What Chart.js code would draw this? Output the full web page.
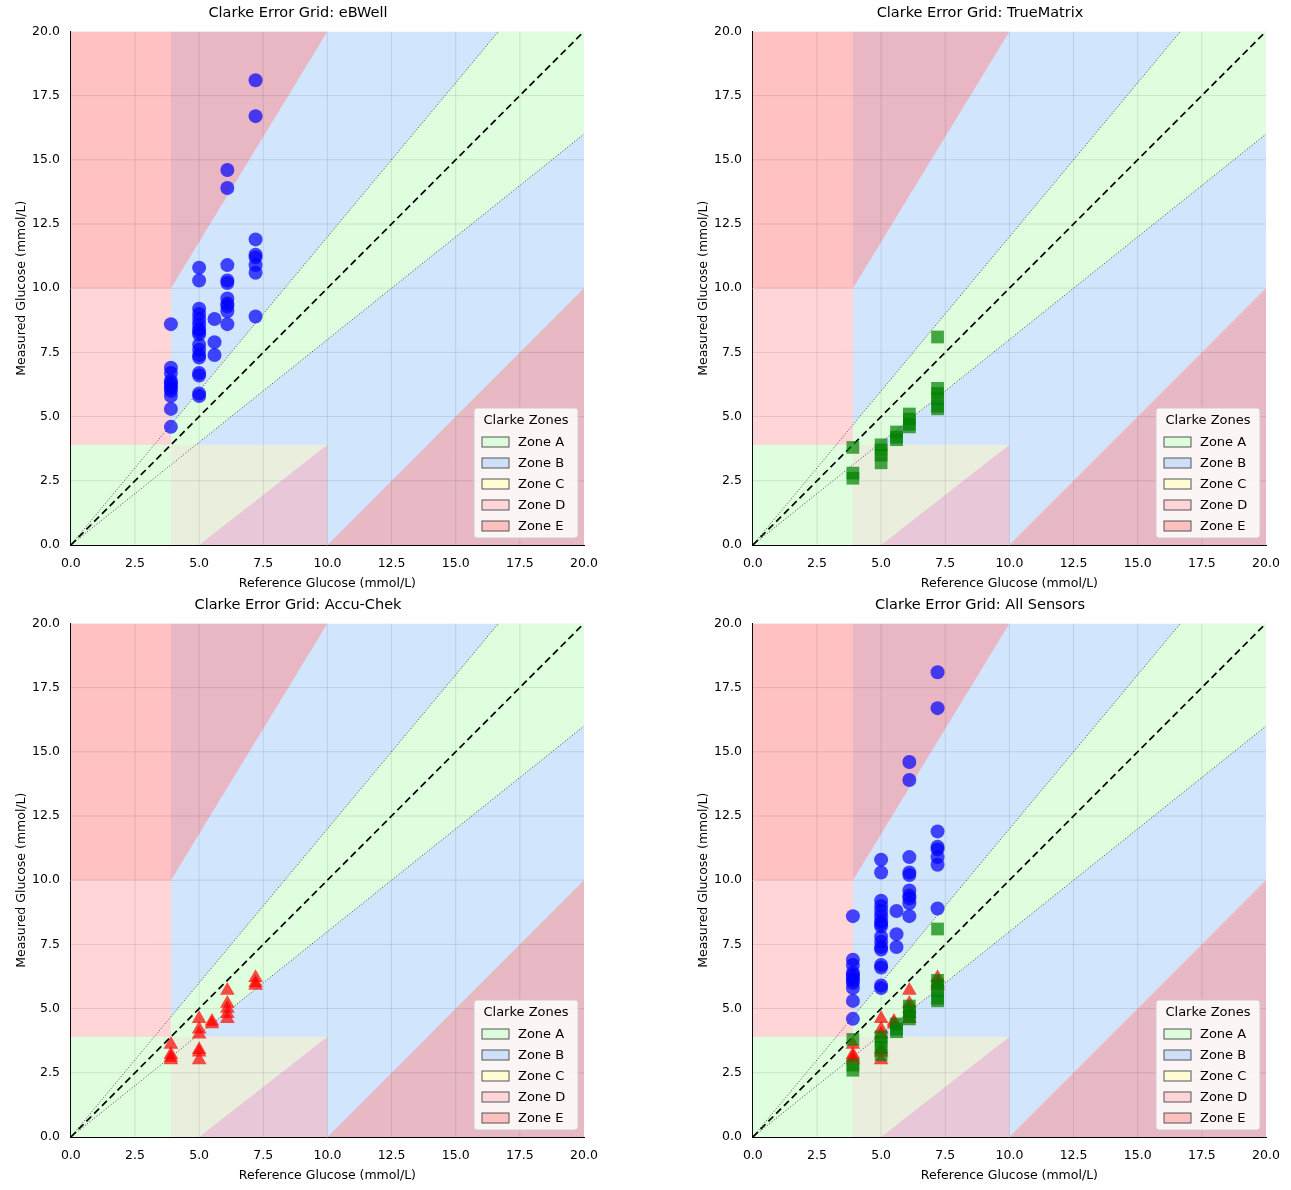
<!DOCTYPE html>
<html><head><meta charset="utf-8">
<script src="https://cdn.jsdelivr.net/npm/chart.js@4"></script>
<style>
body{margin:0;background:#fff;width:1291px;height:1190px;position:relative;overflow:hidden}
.w{position:absolute;width:620px;height:592px}
</style></head><body>
<div class="w" style="left:0;top:0"><canvas id="c1"></canvas></div>
<div class="w" style="left:682px;top:0"><canvas id="c2"></canvas></div>
<div class="w" style="left:0;top:592px"><canvas id="c3"></canvas></div>
<div class="w" style="left:682px;top:592px"><canvas id="c4"></canvas></div>
<script>
const tickLabels=['0.0','2.5','5.0','7.5','10.0','12.5','15.0','17.5','20.0'];
const ebRef=[3.9,3.9,3.9,3.9,3.9,3.9,3.9,3.9,3.9,3.9,3.9,5,5,5,5,5,5,5,5,5,5,5,5,5,5,5,5,5,5.6,5.6,5.6,6.1,6.1,6.1,6.1,6.1,6.1,6.1,6.1,6.1,6.1,7.2,7.2,7.2,7.2,7.2,7.2,7.2,7.2];
const ebMeas=[8.6,6.9,6.7,6.4,6.3,6.2,6.1,6.0,5.8,5.3,4.6,10.8,10.3,9.2,9.0,8.8,8.6,8.4,8.3,8.2,7.8,7.6,7.4,7.3,6.7,6.6,5.9,5.8,8.8,7.9,7.4,14.6,13.9,10.9,10.3,10.2,9.6,9.4,9.3,9.1,8.6,18.1,16.7,11.9,11.3,11.2,10.9,10.6,8.9];
const tmRef=[3.9,3.9,3.9,5,5,5,5,5.6,5.6,5.6,6.1,6.1,6.1,6.1,7.2,7.2,7.2,7.2,7.2,7.2];
const tmMeas=[3.8,2.8,2.6,3.9,3.7,3.5,3.2,4.4,4.2,4.1,5.1,4.9,4.7,4.6,8.1,6.1,5.9,5.7,5.4,5.3];
const acRef=[3.9,3.9,3.9,3.9,5,5,5,5,5,5,5.5,5.5,6.1,6.1,6.1,6.1,6.1,7.2,7.2,7.2];
const acMeas=[3.6,3.2,3.1,3.0,4.6,4.2,4.0,3.4,3.3,3.0,4.5,4.4,5.7,5.2,5.0,4.8,4.6,6.2,6.0,5.9];
const zoneNames=['Zone A','Zone B','Zone C','Zone D','Zone E'];
const zoneLegendColors=['#dcfcdc','#cde0f8','#fffcd4','#ffd5d8','#ffc0c0'];
const polyB=[[0,0],[20,0],[20,20],[0,20]];
const polyAwedge=[[0,0],[16.67,20],[20,20],[20,16]];
const polyAsq=[[0,0],[3.9,0],[3.9,3.9],[0,3.9]];
const polyD=[[0,3.9],[3.9,3.9],[3.9,10],[0,10]];
const polyE=[[0,10],[3.9,10],[3.9,20],[0,20]];
const polyUpperTri=[[3.9,10],[3.9,20],[10,20]];
const polyLowRect=[[3.9,0],[10,0],[10,3.9],[3.9,3.9]];
const polyLowTri=[[5,0],[10,0],[10,3.9]];
const polyLowRightTri=[[10,0],[20,0],[20,10]];
const zoneFills=[[polyB,'#d1e5fc'],[polyAwedge,'#defede'],[polyAsq,'#defede'],[polyD,'#ffd5d8'],[polyE,'#ffc1c1'],[polyUpperTri,'#e8b7c3'],[polyLowRect,'#e9efdc'],[polyLowTri,'#e8c8d8'],[polyLowRightTri,'#e8b8c4']];
const FONT='DejaVu Sans';
Chart.defaults.font.family=FONT;
Chart.defaults.color='#000';
const zonePlugin={id:'zones',beforeDatasetsDraw(ch){const {ctx,chartArea:a,scales:{x,y}}=ch;ctx.save();ctx.beginPath();ctx.rect(a.left,a.top,a.width,a.height);ctx.clip();
 for(const [p,c] of zoneFills){ctx.beginPath();p.forEach((q,i)=>{const px=x.getPixelForValue(q[0]),py=y.getPixelForValue(q[1]);i?ctx.lineTo(px,py):ctx.moveTo(px,py)});ctx.closePath();ctx.fillStyle=c;ctx.fill();}
 ctx.strokeStyle='rgba(0,0,0,0.1)';ctx.lineWidth=1;
 for(let v=2.5;v<20;v+=2.5){let px=x.getPixelForValue(v);ctx.beginPath();ctx.moveTo(px,a.top);ctx.lineTo(px,a.bottom);ctx.stroke();let py=y.getPixelForValue(v);ctx.beginPath();ctx.moveTo(a.left,py);ctx.lineTo(a.right,py);ctx.stroke();}
 ctx.restore();},
 afterDraw(ch){const {ctx,chartArea:a}=ch;ctx.save();const w=104,h=130,l=a.right-w-6,t=a.bottom-h-7;
 ctx.fillStyle='rgba(255,255,255,0.85)';ctx.strokeStyle='#ccc';ctx.lineWidth=1;ctx.beginPath();ctx.roundRect(l,t,w,h,3);ctx.fill();ctx.stroke();
 ctx.fillStyle='#000';ctx.font='13px '+FONT;ctx.textAlign='center';ctx.textBaseline='middle';ctx.fillText('Clarke Zones',l+w/2,t+13);
 ctx.textAlign='left';zoneNames.forEach((n,i)=>{const yy=t+34+i*21;ctx.fillStyle=zoneLegendColors[i];ctx.fillRect(l+8,yy-5,27,10);ctx.strokeStyle='#555';ctx.strokeRect(l+8,yy-5,27,10);ctx.fillStyle='#000';ctx.fillText(n,l+44,yy+1);});
 ctx.restore();}};
function pts(r,m){return r.map((v,i)=>({x:v,y:m[i]}));}
const blueDs=()=>({type:'scatter',clip:false,data:pts(ebRef,ebMeas),pointStyle:'circle',radius:7,backgroundColor:'rgba(0,0,255,0.7)',borderColor:'rgba(0,0,255,0.7)',borderWidth:0});
const greenDs=()=>({type:'scatter',clip:false,data:pts(tmRef,tmMeas),pointStyle:'rect',radius:9,backgroundColor:'rgba(0,128,0,0.7)',borderColor:'rgba(0,128,0,0.7)',borderWidth:0});
const redDs=()=>({type:'scatter',clip:false,data:pts(acRef,acMeas),pointStyle:'triangle',radius:8.5,backgroundColor:'rgba(255,0,0,0.7)',borderColor:'rgba(255,0,0,0.7)',borderWidth:0});
function lines(){return [
 {type:'line',clip:0,data:[{x:0,y:0},{x:20,y:20}],borderColor:'#000',borderWidth:1.7,borderDash:[7,4],pointRadius:0,fill:false},
 {type:'line',clip:0,data:[{x:0,y:0},{x:20,y:24}],borderColor:'#333',borderWidth:0.9,borderDash:[1,2],pointRadius:0,fill:false},
 {type:'line',clip:0,data:[{x:0,y:0},{x:20,y:16}],borderColor:'#333',borderWidth:0.9,borderDash:[1,2],pointRadius:0,fill:false}];}
function axis(title){return {type:'linear',min:0,max:20,border:{color:'#000',width:1},grid:{display:false,drawTicks:true},
 ticks:{stepSize:2.5,font:{size:12.5},callback:(v)=>tickLabels[Math.round(v/2.5)]},title:{display:true,text:title,font:{size:12.5},padding:{top:2,bottom:0}}};}
function make(id,title,ds,top){new Chart(document.getElementById(id),{data:{datasets:[...ds,...lines()]},plugins:[zonePlugin],
 options:{responsive:true,maintainAspectRatio:false,animation:false,
 layout:{padding:{left:12,right:36,top:top,bottom:1}},
 plugins:{legend:{display:false},tooltip:{enabled:false},title:{display:true,text:title,font:{size:14.5,weight:'normal'},padding:{top:2,bottom:9}}},
 scales:{x:axis('Reference Glucose (mmol/L)'),y:axis('Measured Glucose (mmol/L)')}}});}
make('c1','Clarke Error Grid: eBWell',[blueDs()],3);
make('c2','Clarke Error Grid: TrueMatrix',[greenDs()],3);
make('c3','Clarke Error Grid: Accu-Chek',[redDs()],3);
make('c4','Clarke Error Grid: All Sensors',[blueDs(),greenDs(),redDs()],3);
</script></body></html>
